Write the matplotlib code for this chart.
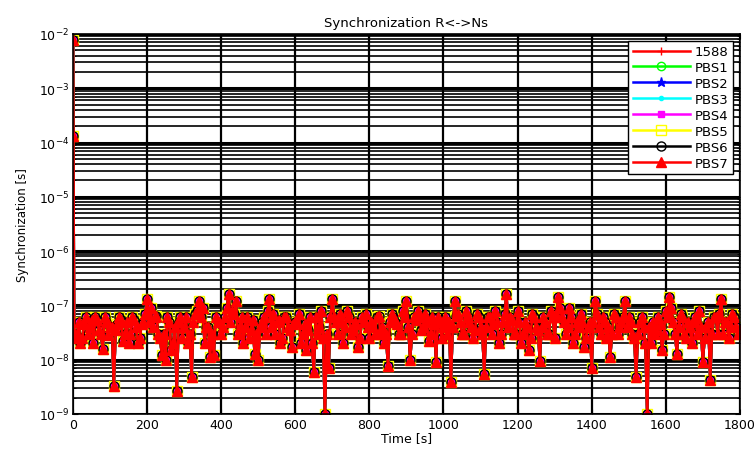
import matplotlib
matplotlib.use("Agg")
import matplotlib.pyplot as plt
import numpy as np
from matplotlib.ticker import LogLocator, NullFormatter, FixedLocator

# start-up transient: time [s] and synchronisation error [s]
start_time = [0, 1, 3]
start_values = [7.8e-3, 1.3e-4, 3.0e-8]

# steady-state values in units of 1e-8 s, one entry per 10 s from 10 s to 1800 s
steady_e8 = [
    2.5, 2.0, 4.5, 3.0, 5.5, 6.0, 3.5, 1.6, 5.0, 4.0,
    0.33, 4.5, 5.5, 3.0, 2.0, 6.0, 4.0, 2.5, 5.0, 13.0,
    9.0, 6.0, 3.0, 1.2, 1.0, 5.0, 2.0, 0.26, 6.0, 4.0,
    2.0, 0.48, 7.0, 12.0, 9.0, 4.0, 1.1, 1.2, 5.0, 3.0,
    6.0, 16.0, 8.0, 12.0, 4.0, 2.0, 6.0, 3.5, 1.3, 1.0,
    5.0, 3.0, 13.0, 7.0, 5.0, 2.0, 6.0, 4.0, 1.7, 5.0,
    7.0, 3.0, 1.5, 6.0, 0.6, 3.0, 8.0, 0.1, 0.7, 13.0,
    5.0, 7.0, 2.0, 8.0, 3.0, 5.0, 1.7, 6.0, 7.0, 2.5,
    4.0, 6.0, 3.0, 2.0, 0.75, 7.0, 5.0, 3.0, 8.0, 12.0,
    1.0, 6.0, 8.0, 3.5, 7.0, 2.2, 6.0, 0.9, 5.0, 4.0,
    3.0, 0.39, 12.0, 7.0, 3.0, 8.0, 5.0, 2.5, 7.0, 4.0,
    0.55, 6.0, 3.0, 8.0, 2.0, 5.0, 16.0, 6.0, 3.0, 8.0,
    2.0, 5.0, 1.5, 7.0, 4.0, 0.95, 6.0, 3.0, 8.0, 2.5,
    14.0, 6.0, 3.0, 9.0, 2.0, 5.0, 7.0, 1.7, 4.0, 0.7,
    12.0, 4.0, 6.0, 2.5, 1.1, 7.0, 3.0, 5.0, 12.0, 6.0,
    3.0, 0.48, 5.0, 4.0, 0.1, 2.0, 3.0, 6.0, 1.5, 8.0,
    14.0, 5.0, 1.3, 7.0, 3.0, 5.0, 2.0, 6.0, 8.0, 0.9,
    4.0, 0.43, 6.0, 3.0, 13.0, 5.0, 2.5, 7.0, 4.0, 3.5,
]
# in-between samples, units of 1e-8 s, one entry per 10 s from 5 s to 1795 s
steady_mid_e8 = [
    3.0, 5.0, 2.5, 6.0, 4.0, 2.0, 5.5, 3.0, 6.0, 2.8,
    4.0, 3.5, 6.0, 2.2, 5.0, 3.0, 5.5, 2.0, 4.5, 7.0,
    5.0, 4.0, 6.5, 2.5, 3.0, 6.0, 1.5, 4.0, 5.0, 2.5,
    6.0, 3.0, 5.0, 8.0, 6.0, 2.0, 4.0, 3.0, 6.0, 5.0,
    4.0, 9.0, 5.0, 7.0, 3.0, 6.0, 4.0, 2.5, 5.5, 3.0,
    4.0, 6.0, 8.0, 4.0, 3.0, 5.5, 2.5, 6.0, 3.5, 4.5,
    5.0, 2.0, 4.5, 3.5, 2.0, 6.0, 4.0, 2.5, 3.0, 6.0,
    6.0, 3.0, 5.0, 4.0, 6.0, 3.5, 4.5, 2.5, 5.0, 4.0,
    5.0, 3.0, 6.5, 4.0, 3.0, 5.0, 6.0, 4.5, 3.0, 6.0,
    4.0, 3.0, 5.5, 6.0, 4.0, 5.0, 3.0, 4.5, 6.0, 2.5,
    6.0, 5.0, 4.0, 6.5, 5.0, 3.0, 6.0, 4.0, 3.5, 6.0,
    3.0, 4.0, 6.0, 4.5, 5.0, 3.0, 7.0, 4.0, 5.5, 3.0,
    5.0, 3.0, 4.0, 2.5, 6.0, 3.5, 4.0, 5.0, 3.0, 6.0,
    7.0, 9.0, 5.0, 4.0, 6.0, 3.0, 4.0, 5.0, 2.5, 5.0,
    5.0, 7.0, 3.0, 5.0, 4.0, 3.0, 6.0, 4.0, 6.0, 4.0,
    5.0, 2.5, 3.0, 6.0, 2.0, 4.0, 5.0, 3.5, 4.5, 3.0,
    6.0, 9.0, 3.0, 4.0, 6.0, 2.5, 4.0, 5.0, 3.0, 4.0,
    2.5, 5.0, 3.0, 6.0, 7.0, 3.0, 5.0, 4.0, 6.0, 3.0,
]

steady_time = []
steady_vals = []
for k, (mid, full) in enumerate(zip(steady_mid_e8, steady_e8)):
    steady_time += [10 * k + 5, 10 * k + 10]
    steady_vals += [mid * 1e-8, full * 1e-8]
time_s = np.array(start_time + steady_time)
sync_s = np.array(start_values + steady_vals)

series_names = ["1588", "PBS1", "PBS2", "PBS3", "PBS4", "PBS5", "PBS6", "PBS7"]
series_colors = ["#ff0000", "#00ff00", "#0000ff", "#00ffff", "#ff00ff", "#ffff00", "#000000", "#ff0000"]
series_markers = ["+", "o", "*", ".", "s", "s", "o", "^"]
series_filled = [True, False, True, True, True, False, False, True]
series_msize = [6, 6, 6.5, 6, 5, 6.8, 6.5, 6.5]

plt.rcParams["font.family"] = ["DejaVu Sans"]
fig = plt.figure(figsize=(7.56, 4.52), dpi=100)
ax = fig.add_axes([0.0966, 0.0819, 0.882, 0.8407])

for name, color, marker, filled, ms in zip(series_names, series_colors, series_markers,
                                           series_filled, series_msize):
    ax.semilogy(time_s, sync_s, color=color, lw=1.8, marker=marker, ms=ms,
                mfc=color if filled else "none", mec=color, mew=1.0, label=name)

ax.set_xlim(0, 1800)
ax.set_ylim(1e-9, 1e-2)
ax.xaxis.set_major_locator(FixedLocator(range(0, 1801, 200)))
ax.yaxis.set_major_locator(LogLocator(base=10, numticks=20))
ax.yaxis.set_minor_locator(LogLocator(base=10, subs=np.arange(2, 10), numticks=20))
ax.yaxis.set_minor_formatter(NullFormatter())
ax.grid(True, which="major", axis="y", color="black", lw=2.2, ls="-")
ax.grid(True, which="major", axis="x", color="black", lw=1.6, ls="-")
ax.grid(True, which="minor", axis="y", color="black", lw=1.2, ls="-")
ax.set_axisbelow(True)
ax.tick_params(which="both", direction="in", top=True, right=True, labelsize=9, pad=3)
for spine in ax.spines.values():
    spine.set_linewidth(1.2)

ax.set_title("Synchronization R<->Ns", fontsize=9.5, pad=6)
ax.set_xlabel("Time [s]", fontsize=9, labelpad=0)
ax.set_ylabel("Synchronization [s]", fontsize=8.5, labelpad=7)

leg = ax.legend(loc="upper right", fontsize=9.5, handlelength=4.3, labelspacing=0.22,
                borderaxespad=0.5, fancybox=False, framealpha=1, edgecolor="black",
                borderpad=0.35, handletextpad=0.4)
leg.get_frame().set_linewidth(1.0)

fig.savefig("out.png", dpi=100)
plt.close(fig)
